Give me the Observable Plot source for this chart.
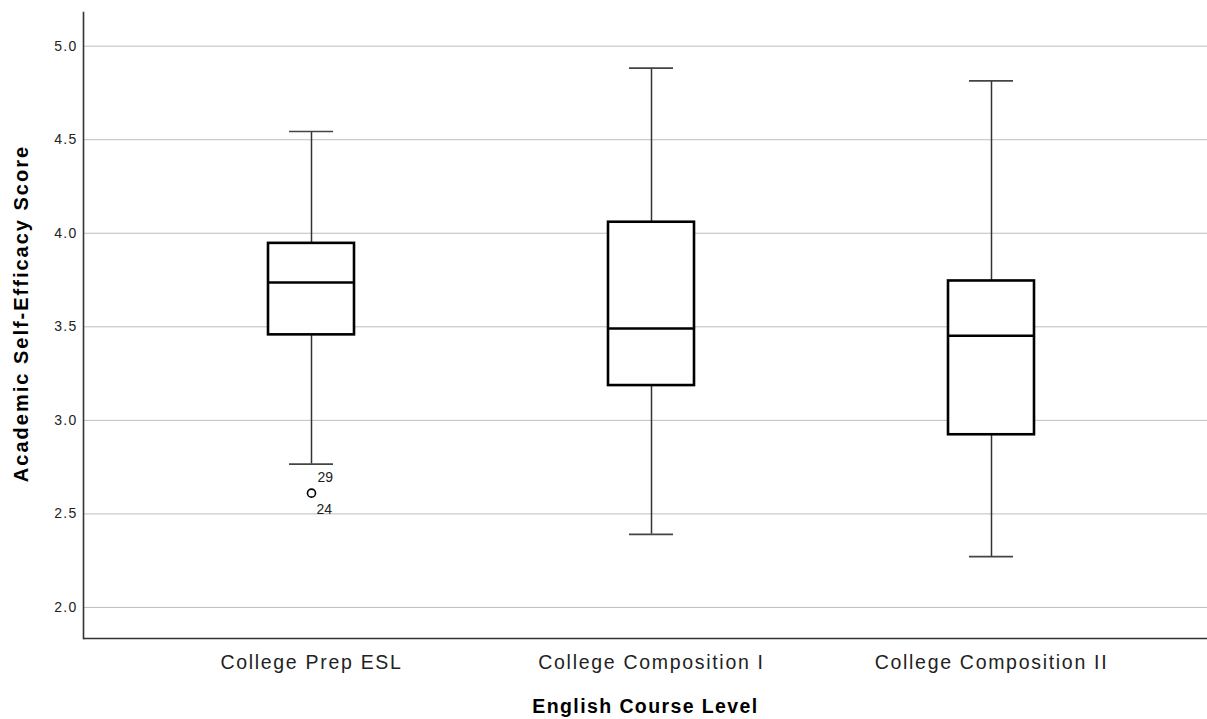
<!DOCTYPE html>
<html>
<head>
<meta charset="utf-8">
<script src="https://cdn.jsdelivr.net/npm/d3@7"></script>
<script src="https://cdn.jsdelivr.net/npm/@observablehq/plot@0.6"></script>
<style>
  html, body { margin: 0; padding: 0; background: #fff; }
  #chart svg { display: block; font-family: "Liberation Sans", Arial, sans-serif; }
  g[aria-label="y-axis tick label"] text { font-size: 14px; fill: #222; letter-spacing: 1.3px; }
  g[aria-label="x-axis tick label"] text { font-size: 19.5px; fill: #222; letter-spacing: 1.7px; }
</style>
</head>
<body>
<div id="chart"></div>
<script>
// ---- data ----
const categories   = ["College Prep ESL", "College Composition I", "College Composition II"];
const lowerWhisker = [2.766, 2.391, 2.272];
const q1           = [3.457, 3.186, 2.923];
const median       = [3.737, 3.491, 3.452];
const q3           = [3.946, 4.059, 3.745];
const upperWhisker = [4.544, 4.883, 4.815];

const outlierCategory = ["College Prep ESL", "College Prep ESL"];
const outlierValue    = [2.611, 2.611];
const outlierCase     = ["29", "24"];

const yTicks = [2.0, 2.5, 3.0, 3.5, 4.0, 4.5, 5.0];
const yTitle = "Academic Self-Efficacy Score";
const xTitle = "English Course Level";

// ---- tables built from the arrays ----
const boxes = categories.map((c, i) => ({
  cat: c, lo: lowerWhisker[i], q1: q1[i], med: median[i], q3: q3[i], hi: upperWhisker[i]
}));
const outliers = outlierValue.map((v, i) => ({cat: outlierCategory[i], v, id: outlierCase[i]}));

const chart = Plot.plot({
  width: 1207,
  height: 719,
  marginLeft: 83,
  marginRight: 0,
  marginTop: 12,
  marginBottom: 81,
  x: {type: "band", domain: categories, paddingInner: 0.7472, paddingOuter: 0.5256, align: 0.5154, label: null},
  y: {domain: [1.834, 5.18], label: null},
  marks: [
    Plot.gridY(yTicks, {stroke: "#bdbdbd", strokeOpacity: 1, strokeWidth: 1}),
    Plot.axisY(yTicks, {tickSize: 0, tickPadding: 6, tickFormat: d3.format(".1f"), label: null}),
    Plot.axisX({tickSize: 0, tickPadding: 17, label: null}),
    // whiskers
    Plot.ruleX(boxes, {x: "cat", y1: "lo", y2: "q1", stroke: "#333", strokeWidth: 1.5}),
    Plot.ruleX(boxes, {x: "cat", y1: "q3", y2: "hi", stroke: "#333", strokeWidth: 1.5}),
    Plot.tickY(boxes, {x: "cat", y: "lo", stroke: "#444", strokeWidth: 1.7, insetLeft: 21, insetRight: 21}),
    Plot.tickY(boxes, {x: "cat", y: "hi", stroke: "#444", strokeWidth: 1.7, insetLeft: 21, insetRight: 21}),
    // boxes
    Plot.barY(boxes, {x: "cat", y1: "q1", y2: "q3", fill: "#fff", stroke: "#000", strokeWidth: 2.6}),
    Plot.tickY(boxes, {x: "cat", y: "med", stroke: "#000", strokeWidth: 2.6}),
    // outlier
    Plot.dot(outliers.slice(0, 1), {x: "cat", y: "v", r: 4, stroke: "#000", strokeWidth: 1.6, fill: "#fff"}),
    Plot.text(outliers.filter(d => d.id === "29"), {x: "cat", y: "v", text: "id", textAnchor: "start", dx: 6, dy: -16, fontSize: 14, fill: "#222"}),
    Plot.text(outliers.filter(d => d.id === "24"), {x: "cat", y: "v", text: "id", textAnchor: "start", dx: 5, dy: 16, fontSize: 14, fill: "#222"}),
    // axis lines
    Plot.ruleY([1.834], {stroke: "#333", strokeWidth: 1.6}),
    Plot.frame({anchor: "left", stroke: "#333", strokeWidth: 1.6}),
    // titles
    Plot.text([yTitle], {frameAnchor: "left", rotate: -90, dx: -62, dy: -12, textAnchor: "middle", text: d => d, fontSize: 20, fontWeight: "bold", fill: "#000"}),
    Plot.text([xTitle], {frameAnchor: "bottom", dy: 74, textAnchor: "middle", text: d => d, fontSize: 19.5, fontWeight: "bold", fill: "#000"})
  ]
});
d3.select(chart).selectAll("text")
  .filter(function() { return this.textContent === yTitle; })
  .style("letter-spacing", "2px");
d3.select(chart).selectAll("text")
  .filter(function() { return this.textContent === xTitle; })
  .style("letter-spacing", "1.4px");
document.getElementById("chart").appendChild(chart);
</script>
</body>
</html>
